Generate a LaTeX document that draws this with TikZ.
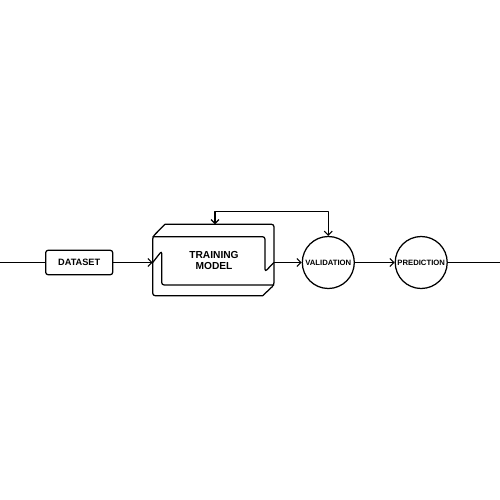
\documentclass[tikz,border=0pt]{standalone}
\usepackage{fontspec}
\setmainfont{Liberation Sans}
\usetikzlibrary{arrows.meta}
\begin{document}
\begin{tikzpicture}[x=1pt,y=-1pt,
  ln/.style={line width=1.25pt,line join=round},
  arr/.style={ln,-{Straight Barb[length=4pt,width=8pt,line width=1.1pt]}},
  lbl/.style={font=\bfseries\fontsize{9.2}{10}\selectfont},
  circ/.style={circle,draw,ln,minimum size=52pt,inner sep=0pt,font=\bfseries\fontsize{7.7}{8}\selectfont}]
\useasboundingbox[fill=white] (0,0) rectangle (500,500);
% nodes
\coordinate (lstart) at (0,262.5);
\node[draw,ln,rounded corners=2.5pt,minimum width=67pt,minimum height=24.5pt,inner sep=0pt,lbl] (dataset) at (79.2,262.5) {DATASET};
\coordinate (tin) at (152.7,262.5);
\coordinate (tout) at (274,262.5);
\coordinate (ttop) at (215,224.3);
\coordinate (fbl) at (215,211.7);
\coordinate (fbr) at (328.3,211.7);
\node[font=\bfseries\fontsize{10.2}{10.7}\selectfont,align=center] (training) at (214,260.5) {TRAINING\\MODEL};
\node[circ] (validation) at (328.3,262.5) {VALIDATION};
\node[circ] (prediction) at (421.2,262.5) {PREDICTION};
\coordinate (rend) at (500,262.5);
% training model shape
\draw[ln,rounded corners=2.5pt] (165,224.3) -- (274,224.3) -- (274,285) [sharp corners] -- (262.7,295.7) [rounded corners=2.5pt] -- (152.7,295.7) -- (152.7,236.7) [sharp corners] -- cycle;
\draw[ln,rounded corners=2.5pt] (152.7,236.7) -- (265,236.7) -- (265,271.7) [sharp corners] -- (tout);
\draw[ln,rounded corners=2.5pt] (tin) -- (161.7,251) -- (161.7,285) [sharp corners] -- (274,285);
% connectors
\draw[ln] (lstart) -- (dataset.west);
\draw[arr] (dataset.east) -- (tin);
\draw[arr] (tout) -- (validation.west);
\draw[arr] (validation.east) -- (prediction.west);
\draw[ln] (prediction.east) -- (rend);
\draw[arr] (fbr) -- (fbl) -- (ttop);
\draw[arr,line cap=round] (fbr) -- (validation.north);
\end{tikzpicture}
\end{document}
